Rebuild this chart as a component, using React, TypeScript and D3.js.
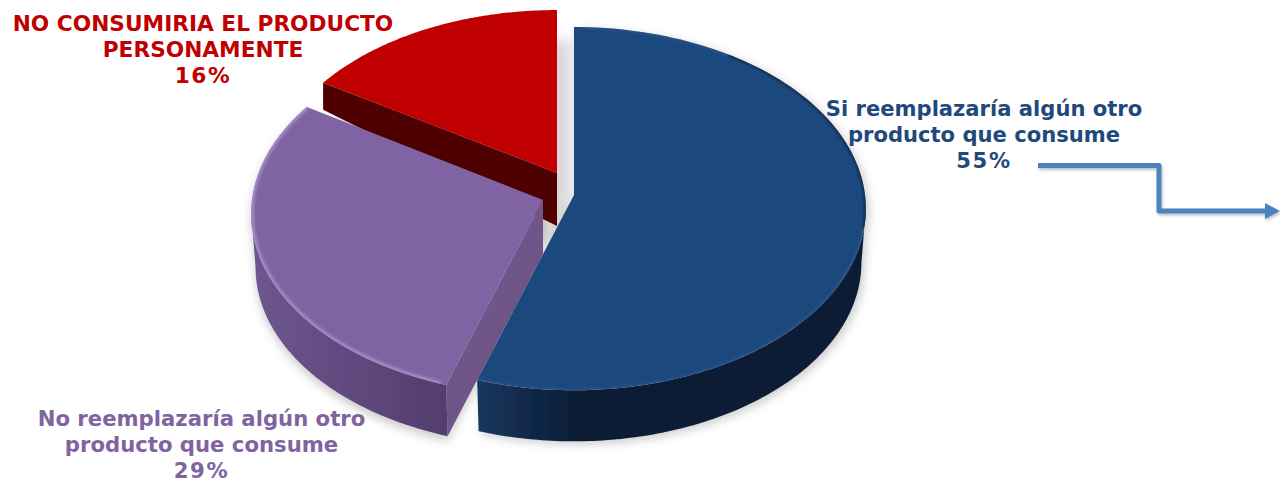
import React from "react";
import * as d3 from "d3";

// Survey answers, in clockwise order from twelve o'clock
const answers = [
  "Si reemplazaría algún otro producto que consume",
  "No reemplazaría algún otro producto que consume",
  "NO CONSUMIRIA EL PRODUCTO PERSONAMENTE",
];
const shares = [55, 29, 16];
const labelLines = [
  ["Si reemplazaría algún otro", "producto que consume"],
  ["No reemplazaría algún otro", "producto que consume"],
  ["NO CONSUMIRIA EL PRODUCTO", "PERSONAMENTE"],
];

const WIDTH = 1280;
const HEIGHT = 480;
const R = 291;
const S = 180.6;
const K = 0.075;

// Angle at which the tilted disc reaches its widest point on the right
const WIDEST = Math.acos(-K);

// Placement of each exploded wedge
const wedgeLayout = [
  { cx: 574, cy: 195, sx: 1, sy: 1, rimDepth: 54, apexDepth: 54, shrink: 0.985 },
  { cx: 543, cy: 200, sx: 1, sy: 1, rimDepth: 54, apexDepth: 54, shrink: 0.985 },
  { cx: 557, cy: 173, sx: 0.99, sy: 0.97, rimDepth: 27, apexDepth: 53, shrink: 1 },
];
const wedgeStyle = [
  { top: "#1f497d", sideA: "#17365d", sideB: "#0c1e36", wall: "#0c1e36", rim: "#3a6ba8", text: "#1f497d" },
  { top: "#8064a2", sideA: "#6f5690", sideB: "#523d6c", wall: "#6f5488", rim: "#ab94d0", text: "#8064a2" },
  { top: "#c00000", sideA: "#4f0000", sideB: "#4f0000", wall: "#4f0000", rim: "#c00000", text: "#c00000" },
];
const wedgeShadow = [
  { dx: 3, dy: 3, blur: 5, opacity: 0.2 },
  { dx: 0, dy: 5, blur: 5, opacity: 0.2 },
  { dx: 14, dy: 30, blur: 6, opacity: 0.15 },
];
const labelLayout = [
  { x: 984, y: 116, size: 21.1 },
  { x: 201.5, y: 426, size: 21.2 },
  { x: 203, y: 31, size: 21.7 },
];

type Layout = (typeof wedgeLayout)[number];
type Pt = [number, number];

// Perspective tilt of the disc: the near edge is drawn larger than the far edge
function topPoint(l: Layout, a: number): Pt {
  const u = Math.sin(a);
  const v = -Math.cos(a);
  const w = 1 - K * v;
  return [l.cx + (l.sx * R * u) / w, l.cy + (l.sy * S * v) / w];
}
function bottomPoint(l: Layout, a: number): Pt {
  const u = Math.sin(a);
  const v = -Math.cos(a);
  const w = 1 - K * v;
  return [
    l.cx + (l.sx * l.shrink * R * u) / w,
    l.cy + l.rimDepth + (l.sy * l.shrink * S * v) / w,
  ];
}

const pieAngles = d3.pie<number>().sort(null).value((d) => d)(shares);
const path = d3.line<Pt>();
const closed = (pts: Pt[]) => path(pts) + "Z";
const arcAngles = (a0: number, a1: number, n = 120) =>
  d3.range(n + 1).map((i) => a0 + ((a1 - a0) * i) / n);

function Wedge({ index }: { index: number }) {
  const l = wedgeLayout[index];
  const st = wedgeStyle[index];
  const { startAngle: a0, endAngle: a1 } = pieAngles[index];
  const apex: Pt = [l.cx, l.cy];
  const topRim = arcAngles(a0, a1).map((a) => topPoint(l, a));
  const topPath = closed([apex, ...topRim]);

  // Cut face turned toward the viewer; the large slice shows none
  const wall = closed([
    apex,
    topPoint(l, a0),
    bottomPoint(l, a0),
    [l.cx, l.cy + l.apexDepth],
  ]);

  // Outer skirt, only over the arc that faces the viewer
  let skirt: string | null = null;
  if (index === 0 || index === 1) {
    const from = index === 0 ? WIDEST : a0;
    const to = index === 0 ? a1 : 2 * Math.PI - WIDEST;
    const range = arcAngles(from, to);
    skirt = closed([
      ...range.map((a) => topPoint(l, a)),
      ...range.slice().reverse().map((a) => bottomPoint(l, a)),
    ]);
  }

  const frontRim = arcAngles(a0 + 0.02, a1).map((a) => topPoint(l, a));

  return (
    <g filter={`url(#shadow-${index})`}>
      {index !== 0 && <path d={wall} fill={st.wall} />}
      {skirt && <path d={skirt} fill={`url(#side-${index})`} />}
      <path d={topPath} fill={st.top} />
      <clipPath id={`clip-${index}`}>
        <path d={topPath} />
      </clipPath>
      {index !== 2 && (
        <g clipPath={`url(#clip-${index})`}>
          <path
            d={path(frontRim) ?? ""}
            fill="none"
            stroke={st.rim}
            strokeWidth={index === 1 ? 5 : 3}
            opacity={index === 1 ? 0.85 : 0.35}
            filter="url(#rim-blur)"
          />
        </g>
      )}
      {index === 0 && (
        <g clipPath="url(#clip-0)">
          <path
            d={path(arcAngles(0.6, 1.75).map((a) => topPoint(l, a))) ?? ""}
            fill="none"
            stroke="#0c1e36"
            strokeWidth={3}
            filter="url(#rim-blur)"
          />
        </g>
      )}
    </g>
  );
}

export default function App() {
  const lineHeight = 26;
  return (
    <svg
      width={WIDTH}
      height={HEIGHT}
      viewBox={`0 0 ${WIDTH} ${HEIGHT}`}
      style={{ position: "absolute", left: 0, top: 0, display: "block", background: "#fff" }}
    >
      <defs>
        {wedgeShadow.map((s, i) => (
          <filter key={i} id={`shadow-${i}`} x="-15%" y="-15%" width="130%" height="140%">
            <feDropShadow
              dx={s.dx}
              dy={s.dy}
              stdDeviation={s.blur}
              floodColor="#000"
              floodOpacity={s.opacity}
            />
          </filter>
        ))}
        <filter id="rim-blur" x="-10%" y="-10%" width="120%" height="120%">
          <feGaussianBlur stdDeviation="1.4" />
        </filter>
        <filter id="arrow-shadow" x="-5%" y="-20%" width="110%" height="150%">
          <feDropShadow dx="1" dy="2" stdDeviation="1.5" floodColor="#000" floodOpacity="0.25" />
        </filter>
        {wedgeStyle.map((st, i) => (
          <linearGradient
            key={i}
            id={`side-${i}`}
            gradientUnits="userSpaceOnUse"
            x1={i === 0 ? 477 : 251}
            x2={i === 0 ? 865 : 450}
            y1={0}
            y2={0}
          >
            <stop offset="0" stopColor={st.sideA} />
            <stop offset={i === 0 ? 0.25 : 1} stopColor={st.sideB} />
            <stop offset="1" stopColor={st.sideB} />
          </linearGradient>
        ))}
      </defs>

      {[2, 1, 0].map((i) => (
        <Wedge key={answers[i]} index={i} />
      ))}

      {answers.map((name, i) => (
        <text
          key={name}
          x={labelLayout[i].x}
          y={labelLayout[i].y}
          textAnchor="middle"
          fontFamily="'DejaVu Sans', Verdana, sans-serif"
          fontWeight="bold"
          fontSize={labelLayout[i].size}
          fill={wedgeStyle[i].text}
        >
          {labelLines[i].map((line, j) => (
            <tspan key={j} x={labelLayout[i].x} y={labelLayout[i].y + j * lineHeight}>
              {line}
            </tspan>
          ))}
          <tspan x={labelLayout[i].x} y={labelLayout[i].y + 2 * lineHeight} letterSpacing={1.6}>
            {shares[i]}%
          </tspan>
        </text>
      ))}

      {/* Connector leading from the largest slice's label off the right edge */}
      <g filter="url(#arrow-shadow)">
        <path
          d="M1038,165.5H1159V211H1266"
          fill="none"
          stroke="#4f81bd"
          strokeWidth={5}
          strokeLinejoin="round"
        />
        <path d="M1265,203L1280,211L1265,219Z" fill="#4f81bd" />
      </g>
    </svg>
  );
}
